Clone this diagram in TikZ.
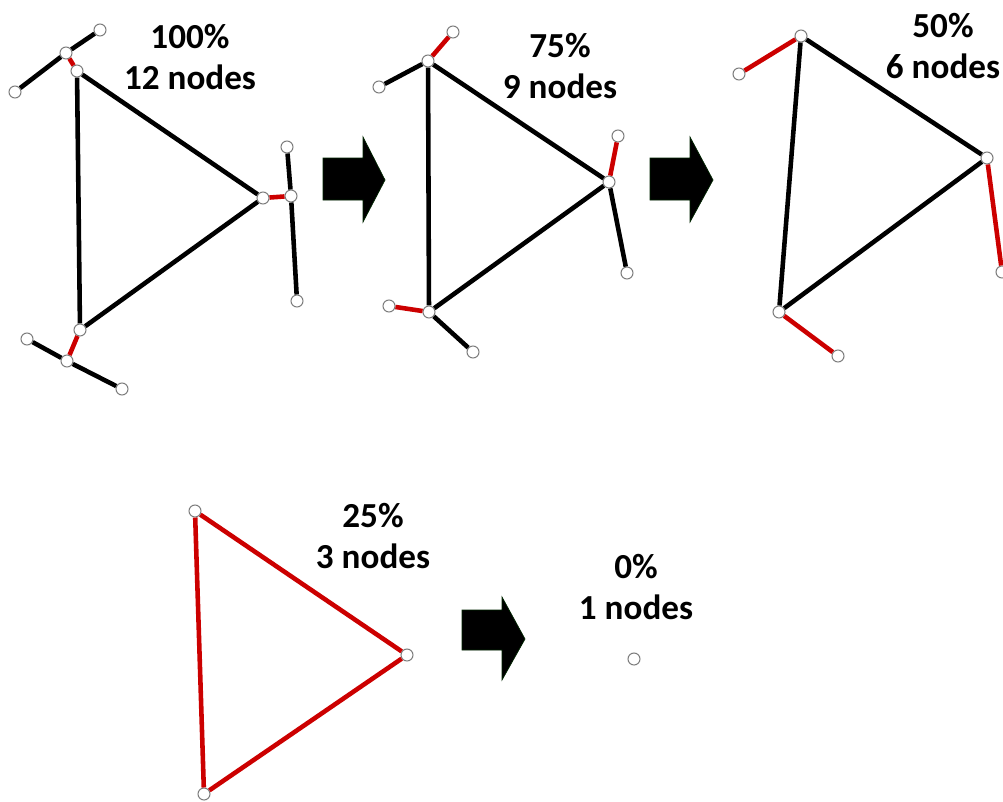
\documentclass[tikz,border=0pt]{standalone}
\usepackage{fontspec}
\setmainfont{Carlito}
\usepackage{xcolor}
\usetikzlibrary{positioning}
\definecolor{cutred}{RGB}{204,0,0}
\definecolor{ringgray}{RGB}{125,125,125}

\begin{document}
\begin{tikzpicture}[x=0.02cm, y=-0.02cm,
  vtx/.style={circle, draw=ringgray, fill=white, line width=0.6pt, inner sep=0pt, minimum size=0.24cm},
  keep/.style={line width=2.6pt, black},
  cut/.style={line width=2.6pt, cutred},
  lbl/.style={font=\bfseries\fontsize{20}{23}\selectfont, align=center},
  bigarrow/.style={fill=black, draw=black!85!green, line width=0.4pt}]
\useasboundingbox (0,0) rectangle (1003,801);

% 100% - 12 nodes
\node[vtx] (a1) at (100,30) {};
\node[vtx] (a2) at (66,53) {};
\node[vtx] (a3) at (15,92) {};
\node[vtx] (p1) at (77,71) {};
\node[vtx] (p2) at (263,198) {};
\node[vtx] (p3) at (80,330) {};
\node[vtx] (b1) at (287,147) {};
\node[vtx] (b2) at (291,196) {};
\node[vtx] (b3) at (297,301) {};
\node[vtx] (c1) at (27,339) {};
\node[vtx] (c2) at (67,361) {};
\node[vtx] (c3) at (122,389) {};
\draw[keep] (a1) -- (a2);
\draw[keep] (a2) -- (a3);
\draw[cut] (a2) -- (p1);
\draw[keep] (p1) -- (p2);
\draw[keep] (p1) -- (p3);
\draw[keep] (p2) -- (p3);
\draw[cut] (p2) -- (b2);
\draw[keep] (b1) -- (b2);
\draw[keep] (b2) -- (b3);
\draw[cut] (p3) -- (c2);
\draw[keep] (c1) -- (c2);
\draw[keep] (c2) -- (c3);
\node[lbl] (t100) at (190,57) {100\%\\12 nodes};

\draw[bigarrow] (323,158) -- (363,158) -- (363,137) -- (385,180) -- (363,222) -- (363,200) -- (323,200) -- cycle;

% 75% - 9 nodes
\node[vtx] (q1) at (428,61) {};
\node[vtx] (q2) at (609,182) {};
\node[vtx] (q3) at (429,312) {};
\node[vtx] (d1) at (453,32) {};
\node[vtx] (d2) at (379,87) {};
\node[vtx] (e1) at (618,136) {};
\node[vtx] (e2) at (627,273) {};
\node[vtx] (f1) at (389,306) {};
\node[vtx] (f2) at (473,352) {};
\draw[keep] (q1) -- (q2);
\draw[keep] (q1) -- (q3);
\draw[keep] (q2) -- (q3);
\draw[cut] (q1) -- (d1);
\draw[keep] (q1) -- (d2);
\draw[cut] (q2) -- (e1);
\draw[keep] (q2) -- (e2);
\draw[cut] (q3) -- (f1);
\draw[keep] (q3) -- (f2);
\node[lbl] (t75) at (560,66) {75\%\\9 nodes};

\draw[bigarrow] (650,158) -- (690,158) -- (690,137) -- (713,180) -- (690,222) -- (690,200) -- (650,200) -- cycle;

% 50% - 6 nodes
\node[vtx] (r1) at (801,36) {};
\node[vtx] (r2) at (987,158) {};
\node[vtx] (r3) at (779,312) {};
\node[vtx] (g1) at (739,74) {};
\node[vtx] (g2) at (1002,272) {};
\node[vtx] (g3) at (838,356) {};
\draw[keep] (r1) -- (r2);
\draw[keep] (r1) -- (r3);
\draw[keep] (r2) -- (r3);
\draw[cut] (r1) -- (g1);
\draw[cut] (r2) -- (g2);
\draw[cut] (r3) -- (g3);
\node[lbl] (t50) at (943,46) {50\%\\6 nodes};

% 25% - 3 nodes
\node[vtx] (s1) at (195,511) {};
\node[vtx] (s2) at (407,655) {};
\node[vtx] (s3) at (204,794) {};
\draw[cut] (s1) -- (s2);
\draw[cut] (s1) -- (s3);
\draw[cut] (s2) -- (s3);
\node[lbl] (t25) at (373,536) {25\%\\3 nodes};

\draw[bigarrow] (462,610) -- (502,610) -- (502,597) -- (525,639) -- (502,680) -- (502,650) -- (462,650) -- cycle;

% 0% - 1 nodes
\node[vtx] (z1) at (634,659) {};
\node[lbl] (t0) at (636,587) {0\%\\1 nodes};
\end{tikzpicture}
\end{document}
